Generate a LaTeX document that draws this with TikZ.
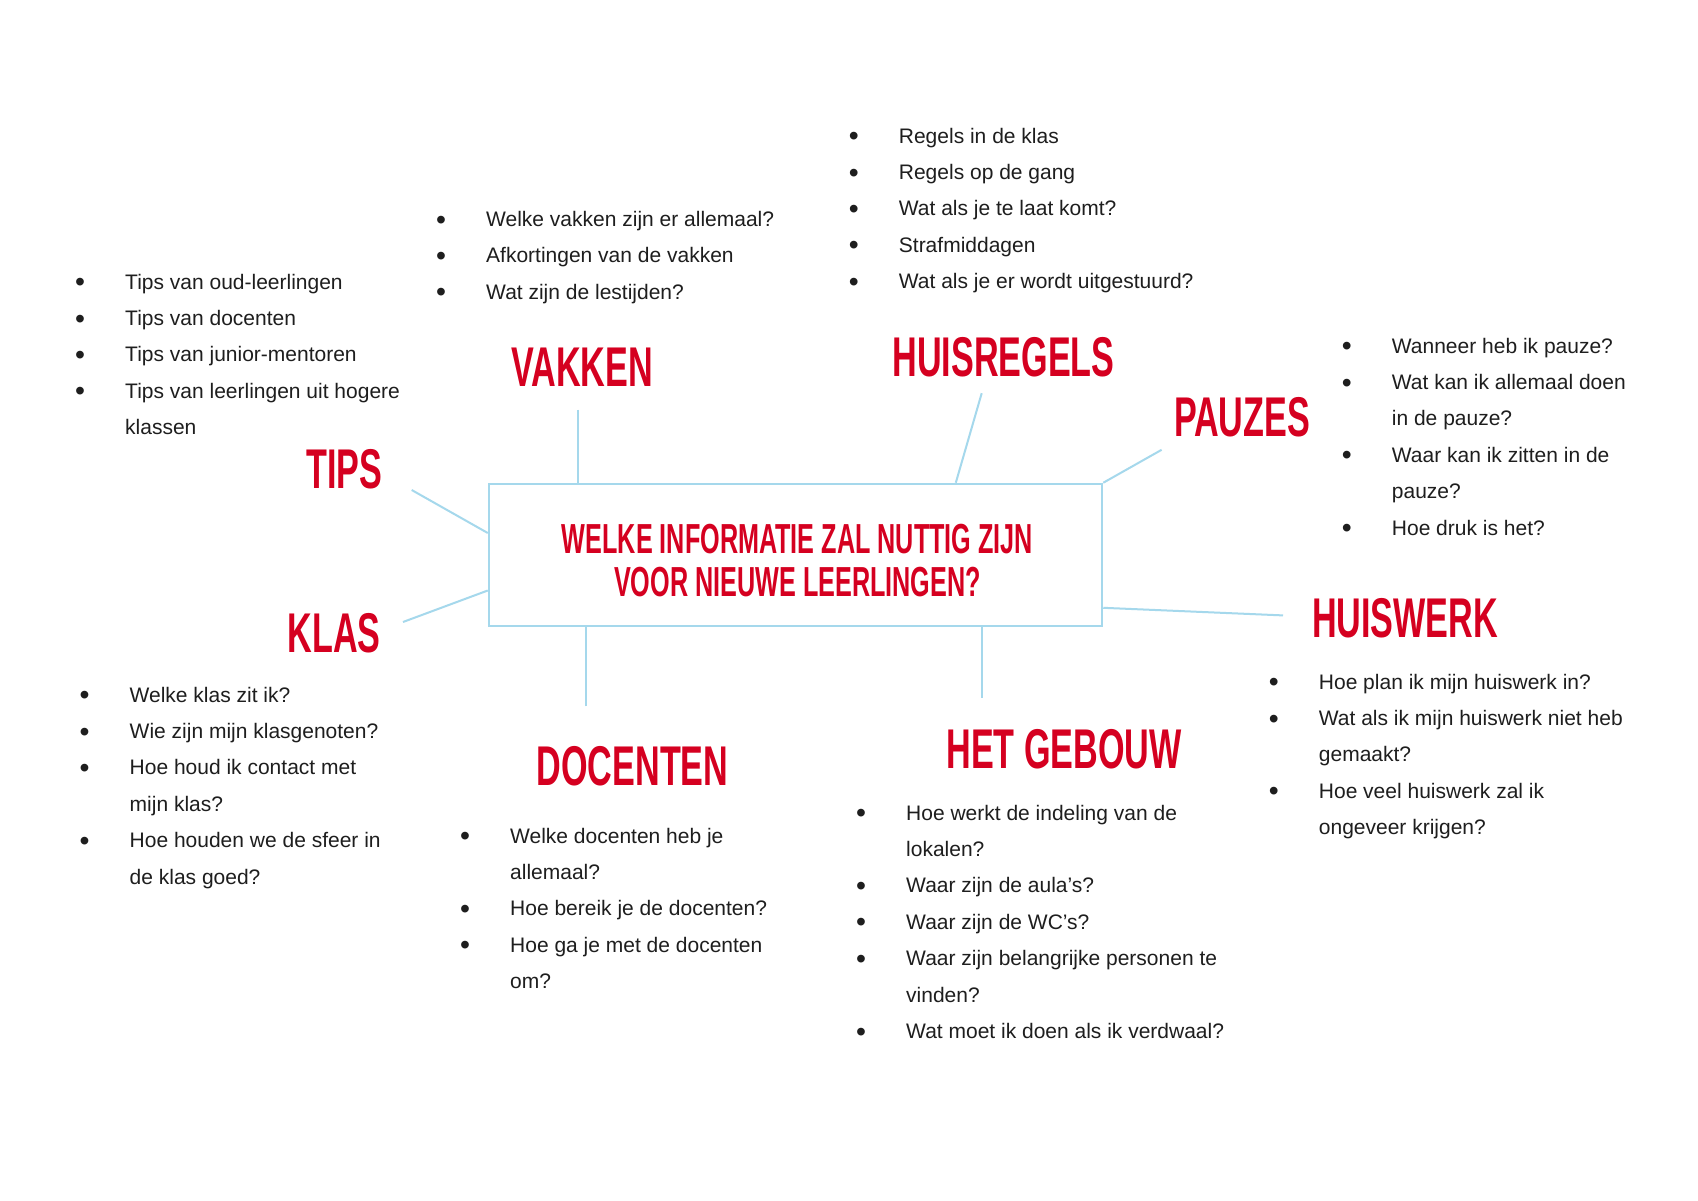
\documentclass[tikz,border=0pt]{standalone}
\usepackage{fontspec}
\setmainfont{Liberation Sans}
\newfontfamily\headfont[FakeStretch=0.61]{Liberation Sans}
\newfontfamily\titlefont[FakeStretch=0.6]{Liberation Sans}
\definecolor{lineblue}{RGB}{165,216,236}
\definecolor{headred}{RGB}{213,0,32}
\definecolor{bodytext}{RGB}{30,30,30}
\newcommand\bul{\hspace{-1.3pt}\raisebox{-2.6pt}{\scalebox{1.35}{\textbullet}}}
\newcommand\listtab[1]{\begin{tabular}[t]{@{}p{48.7pt}@{}l@{}}#1\end{tabular}}
\tikzset{
  conn/.style={draw=lineblue, line width=2pt},
  heading/.style={anchor=base, inner sep=0pt, text=headred, font=\headfont\bfseries\fontsize{56}{60}\selectfont},
  blist/.style={anchor=base west, inner sep=0pt, text=bodytext, font=\fontsize{21}{36.4}\selectfont},
  mainbox/.style={draw=lineblue, line width=2.5pt, minimum width=613pt, minimum height=142pt, inner sep=0pt},
  titletext/.style={anchor=base, inner sep=0pt, text=headred, font=\titlefont\bfseries\fontsize{42}{43}\selectfont},
}
\begin{document}
\begin{tikzpicture}[x=1pt,y=-1pt]
\fill[white] (0,0) rectangle (1698,1200);
\useasboundingbox (0,0) rectangle (1698,1200);

% central box
\node[mainbox] (box) at (795.5,555) {};
\node[titletext] (title) at (797.5,553.5) {\begin{tabular}[t]{@{}c@{}}WELKE INFORMATIE ZAL NUTTIG ZIJN\\VOOR NIEUWE LEERLINGEN?\end{tabular}};

% headings
\node[heading] (tips) at (344.5,488) {TIPS};
\node[heading] (vakken) at (582,386.5) {VAKKEN};
\node[heading] (huisregels) at (1003.5,376) {HUISREGELS};
\node[heading] (pauzes) at (1242,436.5) {PAUZES};
\node[heading] (huiswerk) at (1405,637.5) {HUISWERK};
\node[heading] (gebouw) at (1064,768.5) {HET GEBOUW};
\node[heading] (klas) at (334,652) {KLAS};
\node[heading] (docenten) at (632.5,785) {DOCENTEN};

% lists
\node[blist] (ltips) at (76.3,289) {\listtab{%
\bul & Tips van oud-leerlingen\\
\bul & Tips van docenten\\
\bul & Tips van junior-mentoren\\
\bul & Tips van leerlingen uit hogere\\
 & klassen}};
\node[blist] (lvakken) at (437.3,226.5) {\listtab{%
\bul & Welke vakken zijn er allemaal?\\
\bul & Afkortingen van de vakken\\
\bul & Wat zijn de lestijden?}};
\node[blist] (lhuisregels) at (850,143) {\listtab{%
\bul & Regels in de klas\\
\bul & Regels op de gang\\
\bul & Wat als je te laat komt?\\
\bul & Strafmiddagen\\
\bul & Wat als je er wordt uitgestuurd?}};
\node[blist] (lpauzes) at (1343,353) {\listtab{%
\bul & Wanneer heb ik pauze?\\
\bul & Wat kan ik allemaal doen\\
 & in de pauze?\\
\bul & Waar kan ik zitten in de\\
 & pauze?\\
\bul & Hoe druk is het?}};
\node[blist] (lklas) at (80.8,702) {\listtab{%
\bul & Welke klas zit ik?\\
\bul & Wie zijn mijn klasgenoten?\\
\bul & Hoe houd ik contact met\\
 & mijn klas?\\
\bul & Hoe houden we de sfeer in\\
 & de klas goed?}};
\node[blist] (ldocenten) at (461.3,843) {\listtab{%
\bul & Welke docenten heb je\\
 & allemaal?\\
\bul & Hoe bereik je de docenten?\\
\bul & Hoe ga je met de docenten\\
 & om?}};
\node[blist] (lgebouw) at (857.3,820) {\listtab{%
\bul & Hoe werkt de indeling van de\\
 & lokalen?\\
\bul & Waar zijn de aula’s?\\
\bul & Waar zijn de WC’s?\\
\bul & Waar zijn belangrijke personen te\\
 & vinden?\\
\bul & Wat moet ik doen als ik verdwaal?}};
\node[blist] (lhuiswerk) at (1270,689) {\listtab{%
\bul & Hoe plan ik mijn huiswerk in?\\
\bul & Wat als ik mijn huiswerk niet heb\\
 & gemaakt?\\
\bul & Hoe veel huiswerk zal ik\\
 & ongeveer krijgen?}};

% connectors
\coordinate (cV) at (577.6,409.5);
\draw[conn] (cV) -- (cV |- box.north);
\coordinate (cH) at (981.7,393.2);
\coordinate (cHb) at (955.8,0);
\draw[conn] (cH) -- (cHb |- box.north);
\coordinate (cP) at (1161.6,449.8);
\draw[conn] (cP) -- (box.north east);
\coordinate (cT) at (411.7,490);
\coordinate (cTb) at (0,533);
\draw[conn] (cT) -- (box.west |- cTb);
\coordinate (cK) at (403,622);
\coordinate (cKb) at (0,590.5);
\draw[conn] (cK) -- (box.west |- cKb);
\coordinate (cD) at (586.2,706.4);
\draw[conn] (cD) -- (cD |- box.south);
\coordinate (cG) at (981.7,697.8);
\draw[conn] (cG) -- (cG |- box.south);
\coordinate (cW) at (1283,615.4);
\coordinate (cWb) at (0,607.8);
\draw[conn] (cW) -- (box.east |- cWb);
\end{tikzpicture}
\end{document}
